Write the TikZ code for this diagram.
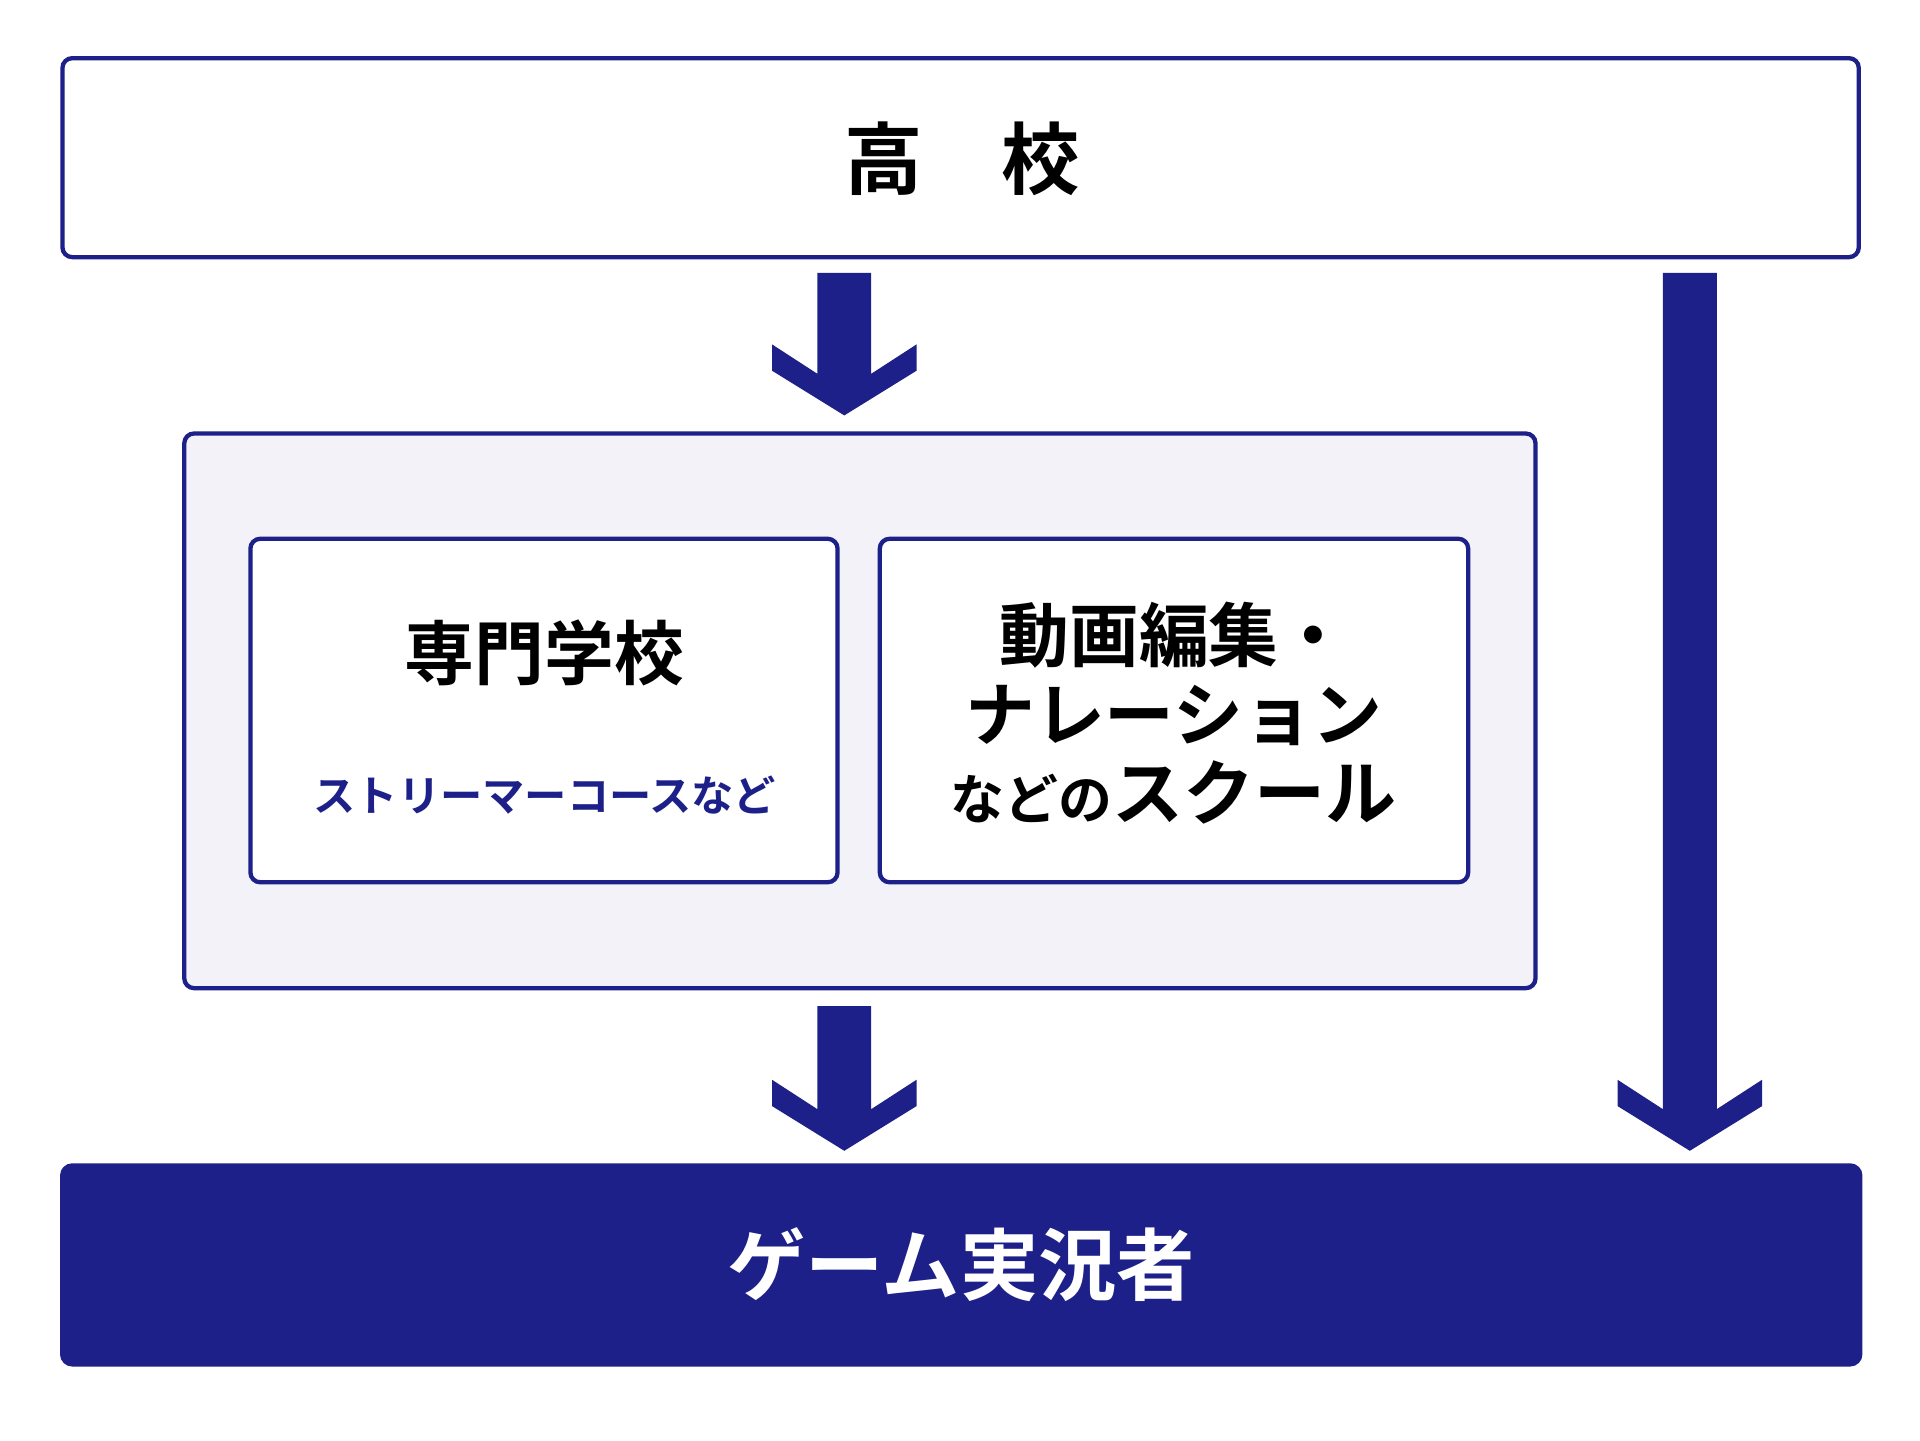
\documentclass[tikz,border=0pt]{standalone}
\usepackage{fontspec}
\setmainfont{Noto Sans CJK JP}[BoldFont={* Bold}]
\usetikzlibrary{calc}
\definecolor{navyc}{HTML}{1D2088}
\definecolor{lavender}{HTML}{F2F2F8}
\tikzset{
  box/.style={draw=navyc, line width=3.5pt, rounded corners=8pt, inner sep=0pt, fill=white},
  cjk/.style={font=\bfseries, text=black, inner sep=0pt},
}
\newcommand\dnarrow[2]{%
  \fill[navyc] let \p1=(#1), \p2=(#2) in
    (\x1-22pt,\y1) -- (\x1+22pt,\y1) -- (\x1+22pt,\y2+34pt) -- (\x1+59pt,\y2+58pt)
    -- (\x1+59pt,\y2+36.5pt) -- (\x1,\y2) -- (\x1-59pt,\y2+36.5pt)
    -- (\x1-59pt,\y2+58pt) -- (\x1-22pt,\y2+34pt) -- cycle;}
\begin{document}
\begin{tikzpicture}[x=1pt,y=-1pt]
\useasboundingbox (0,0) rectangle (1568,1176);
\fill[white] (0,0) rectangle (1568,1176);
% top box
\node[box, minimum width=1467pt, minimum height=162.5pt] (top) at (784.5,128.75) {};
\node[cjk, font=\fontsize{64}{64}\bfseries\selectfont] (toptext) at (786,130) {高　校};
% container
\node[box, fill=lavender, minimum width=1103.5pt, minimum height=453pt] (cont) at (702.25,580.5) {};
% inner boxes
\node[box, minimum width=479.5pt, minimum height=280.5pt] (in1) at (444.25,580.25) {};
\node[box, minimum width=480.5pt, minimum height=280.5pt] (in2) at (958.75,580.25) {};
\node[cjk, font=\fontsize{57}{57}\bfseries\selectfont] (t1) at (444.5,533) {専門学校};
\node[cjk, text=navyc, font=\fontsize{34.5}{34.5}\bfseries\selectfont] (t1s) at (445,649) {ストリーマーコースなど};
\node[cjk, font=\fontsize{57}{57}\bfseries\selectfont] (t2a) at (958.75,518.5) {動画編集・};
\node[cjk, font=\fontsize{57}{57}\bfseries\selectfont] (t2b) at (958.75,584) {ナレーション};
\node[cjk, font=\fontsize{58}{58}\bfseries\selectfont] (t2c) at (958.5,647) {{\fontsize{44}{44}\selectfont などの}スクール};
% bottom box
\node[fill=navyc, rounded corners=10pt, inner sep=0pt, minimum width=1472pt, minimum height=166pt] (bot) at (785,1033) {};
\node[cjk, text=white, font=\fontsize{64}{64}\bfseries\selectfont] (bottext) at (785,1033) {ゲーム実況者};
% arrow end points
\coordinate (a1s) at ($(top.south)+(-95,11)$);
\coordinate (a1e) at ($(cont.north)+(-12.75,-13)$);
\coordinate (a2s) at ($(cont.south)+(-12.75,13)$);
\coordinate (a2e) at ($(bot.north)+(-95.5,-10)$);
\coordinate (a3s) at ($(top.south)+(595.5,11)$);
\coordinate (a3e) at ($(bot.north)+(595,-10)$);
\dnarrow{a1s}{a1e}
\dnarrow{a2s}{a2e}
\dnarrow{a3s}{a3e}
\end{tikzpicture}
\end{document}
